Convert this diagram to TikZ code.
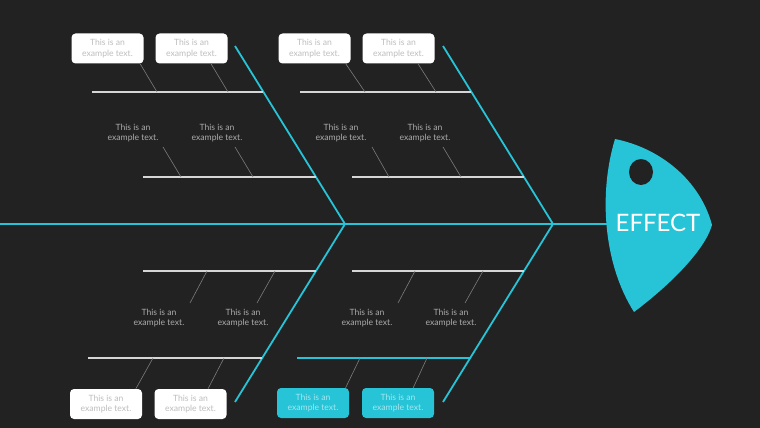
\documentclass[tikz,border=0pt]{standalone}
\usepackage{fontspec}
\setmainfont{Lato}
\usetikzlibrary{positioning,calc}
\definecolor{bgdark}{HTML}{222222}
\definecolor{fishcyan}{HTML}{27C3D6}
\definecolor{riblight}{HTML}{D6D6D6}
\definecolor{twiggray}{HTML}{7C7C7C}
\definecolor{boxtext}{HTML}{BEBEBE}
\definecolor{cyantext}{HTML}{A3E7F0}
\definecolor{notegray}{HTML}{ABABAB}

\begin{document}
\begin{tikzpicture}[x=1pt, y=-1pt,
  bone/.style={draw=fishcyan, line width=1.8pt},
  rib/.style={draw=riblight, line width=1.6pt},
  twig/.style={draw=twiggray, line width=0.6pt},
  notebox/.style={rectangle, rounded corners=4pt, minimum width=72pt, minimum height=30pt, inner sep=0pt, align=center, font=\fontsize{8.6}{10.5}\selectfont},
  whitebox/.style={notebox, fill=white, text=boxtext},
  cyanbox/.style={notebox, fill=fishcyan, text=cyantext},
  freetext/.style={inner sep=1pt, align=center, text=notegray, font=\fontsize{8.6}{10.5}\selectfont}]

% background and margins
\fill[bgdark] (0,0) rectangle (760,428);
\useasboundingbox (0,0) rectangle (760,428);

% bone ends
\coordinate (tail) at (0,224);
\coordinate (nose) at (620,224);
\coordinate (j1) at (345,224);
\coordinate (j2) at (553,224);
\coordinate (t1) at (235,46);
\coordinate (t2) at (443,46);
\coordinate (b1) at (235,402);
\coordinate (b2) at (443,402);

% spine and bones
\draw[bone] (tail) -- (nose);
\draw[bone] (t1) -- (j1) -- (b1);
\draw[bone] (t2) -- (j2) -- (b2);

% ribs
\draw[rib] (92,92) coordinate (r1a) -- (263,92) coordinate (r1b);
\draw[rib] (143,177) coordinate (r2a) -- (316,177) coordinate (r2b);
\draw[rib] (300,92) coordinate (r3a) -- (471,92) coordinate (r3b);
\draw[rib] (352,177) coordinate (r4a) -- (524,177) coordinate (r4b);
\draw[rib] (143,271) coordinate (r5a) -- (316,271) coordinate (r5b);
\draw[rib] (88,358) coordinate (r6a) -- (262,358) coordinate (r6b);
\draw[rib] (352,271) coordinate (r7a) -- (524,271) coordinate (r7b);
\draw[bone, line width=1.6pt] (297,358) coordinate (r8a) -- (470,358) coordinate (r8b);

% points where the twigs meet the ribs
\coordinate (p1) at (157,92);
\coordinate (p2) at (228,92);
\coordinate (p3) at (365,92);
\coordinate (p4) at (436,92);
\coordinate (q1) at (181,177);
\coordinate (q2) at (253,177);
\coordinate (q3) at (389,177);
\coordinate (q4) at (461,177);
\coordinate (s1) at (207,271);
\coordinate (s2) at (275,271);
\coordinate (s3) at (415,271);
\coordinate (s4) at (483,271);
\coordinate (v1) at (153,358);
\coordinate (v2) at (224,358);
\coordinate (v3) at (360,358);
\coordinate (v4) at (427,358);

% free ends of the twigs under/over the free texts
\coordinate (qe1) at (163,147);
\coordinate (qe2) at (235,147);
\coordinate (qe3) at (372,147);
\coordinate (qe4) at (443,147);
\coordinate (se1) at (190,303);
\coordinate (se2) at (257,303);
\coordinate (se3) at (398,303);
\coordinate (se4) at (465,303);

% upper boxes
\node[whitebox] (ub1) at (107.5,48.5) {This is an\\example text.};
\node[whitebox] (ub2) at (191.5,48.5) {This is an\\example text.};
\node[whitebox] (ub3) at (314.5,48.5) {This is an\\example text.};
\node[whitebox] (ub4) at (398.5,48.5) {This is an\\example text.};

% lower boxes
\node[whitebox] (lb1) at (106,404) {This is an\\example text.};
\node[whitebox] (lb2) at (190.5,404) {This is an\\example text.};
\node[cyanbox] (lb3) at (313,403) {This is an\\example text.};
\node[cyanbox] (lb4) at (398,403) {This is an\\example text.};

% free texts
\node[freetext] (ut1) at (133,133) {This is an\\example text.};
\node[freetext] (ut2) at (217,133) {This is an\\example text.};
\node[freetext] (ut3) at (341,133) {This is an\\example text.};
\node[freetext] (ut4) at (425,133) {This is an\\example text.};
\node[freetext] (lt1) at (159,318) {This is an\\example text.};
\node[freetext] (lt2) at (243,318) {This is an\\example text.};
\node[freetext] (lt3) at (367,318) {This is an\\example text.};
\node[freetext] (lt4) at (451,318) {This is an\\example text.};

% twigs
\draw[twig] (ub1.-25) -- (p1);
\draw[twig] (ub2.-38) -- (p2);
\draw[twig] (ub3.-26) -- (p3);
\draw[twig] (ub4.-38) -- (p4);
\draw[twig] (qe1) -- (q1);
\draw[twig] (qe2) -- (q2);
\draw[twig] (qe3) -- (q3);
\draw[twig] (qe4) -- (q4);
\draw[twig] (se1) -- (s1);
\draw[twig] (se2) -- (s2);
\draw[twig] (se3) -- (s3);
\draw[twig] (se4) -- (s4);
\draw[twig] (lb1.27) -- (v1);
\draw[twig] (lb2.41) -- (v2);
\draw[twig] (lb3.25) -- (v3);
\draw[twig] (lb4.45) -- (v4);

% head
\fill[fishcyan] (615,139) .. controls (660,148) and (700,180) .. (712,225)
  .. controls (705,250) and (670,285) .. (634,312)
  .. controls (604,265) and (598,195) .. (615,139) -- cycle;
\fill[bgdark] (641,172) ellipse [x radius=12, y radius=13];
\node[text=white, font=\fontsize{24}{26}\selectfont] (effect) at (658,223) {EFFECT};
\end{tikzpicture}
\end{document}
